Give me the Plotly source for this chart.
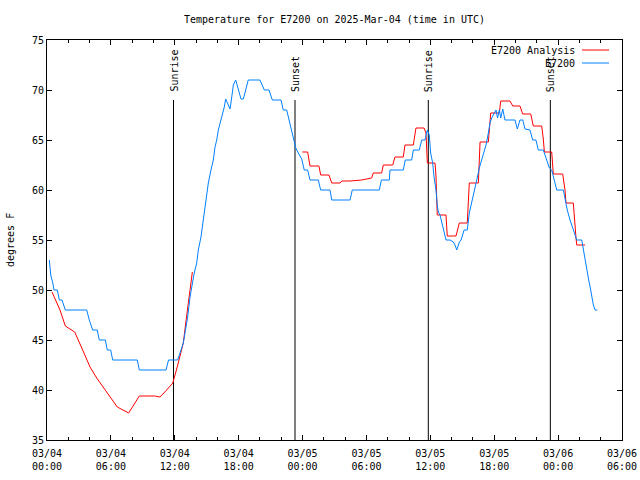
import plotly.graph_objects as go

# hours since 2025-03-04 00:00 UTC
obs_hours = [0.22, 0.35, 0.54, 0.66, 0.97, 1.16, 1.41, 1.72, 3.73, 3.97, 4.29, 4.72, 4.91, 5.48, 5.66, 5.98,
             6.17, 8.48, 8.67, 11.18, 11.41, 12.26, 12.49, 12.80, 12.96, 13.21, 13.43, 13.59, 13.83, 14.06,
             14.21, 14.46, 14.68, 14.84, 15.00, 15.15, 15.40, 15.62, 15.78, 15.94, 16.09, 16.41, 16.65, 16.78,
             16.97, 17.19, 17.35, 17.50, 17.72, 17.91, 18.22, 18.44, 18.66, 18.90, 20.00, 20.41, 20.85, 21.16,
             21.98, 22.19, 22.51, 22.66, 22.98, 23.23, 23.36, 23.60, 23.92, 24.16, 24.48, 24.70, 25.48, 25.70,
             26.58, 26.74, 28.46, 28.67, 31.21, 31.40, 32.15, 32.21, 33.46, 33.65, 34.25, 34.40, 34.96, 35.19,
             35.50, 35.72, 35.90, 36.03, 36.22, 36.35, 36.53, 36.65, 36.75, 36.91, 37.22, 37.47, 37.85, 38.16,
             38.32, 38.48, 38.73, 38.89, 39.17, 39.47, 39.66, 39.89, 40.10, 40.36, 40.60, 40.92, 41.23, 41.45,
             41.60, 41.76, 41.98, 42.17, 42.31, 42.48, 42.61, 42.80, 43.01, 43.95, 44.17, 44.42, 44.68, 44.89,
             45.36, 45.61, 45.92, 46.14, 46.61, 46.86, 47.18, 47.40, 47.61, 47.87, 48.49, 48.65, 48.86, 49.12,
             49.37, 49.59, 49.75, 50.22, 50.37, 50.62, 50.84, 51.06, 51.31, 51.47, 51.68]
obs_temps = [53.0, 51.5, 50.7, 50.0, 50.0, 49.0, 49.0, 48.0, 48.0, 47.0, 46.0, 46.0, 45.0, 45.0, 44.0, 44.0,
             43.0, 43.0, 42.0, 42.0, 43.0, 43.0, 43.7, 44.7, 45.7, 47.3, 49.3, 50.3, 51.7, 52.7,
             54.0, 55.3, 57.0, 58.2, 59.3, 60.7, 62.0, 63.0, 64.3, 65.0, 66.0, 67.3, 68.3, 69.1,
             68.7, 68.1, 69.3, 70.5, 71.0, 70.3, 69.1, 69.1, 70.0, 71.0, 71.0, 70.0, 70.0, 69.0,
             69.0, 68.0, 68.0, 67.3, 65.8, 64.8, 64.2, 63.7, 63.1, 62.0, 62.0, 61.0, 61.0, 60.0,
             60.0, 59.0, 59.0, 60.0, 60.0, 61.0, 61.0, 62.0, 62.0, 63.0, 63.0, 64.0, 64.0, 65.0,
             65.0, 66.0, 65.5, 63.7, 62.7, 61.3, 60.0, 58.5, 57.8, 57.5, 56.0, 55.0, 55.0, 54.8,
             54.5, 54.0, 54.8, 55.0, 56.0, 56.0, 57.7, 58.7, 59.8, 61.0, 62.2, 63.3, 64.5, 65.7,
             66.7, 67.2, 67.7, 68.0, 67.2, 68.0, 67.2, 68.1, 67.0, 67.0, 66.1, 67.0, 67.0, 66.1,
             66.0, 65.0, 65.0, 64.0, 64.0, 63.2, 62.2, 62.0, 61.0, 60.0, 60.0, 59.0, 58.0, 57.0,
             56.2, 55.3, 55.0, 55.0, 54.0, 52.7, 51.2, 50.0, 48.5, 48.0, 48.0]

ana_hours = [0.47, 1.22, 1.72, 2.16, 2.60, 3.35, 4.04, 4.67, 5.61, 6.60, 7.67, 8.67, 10.11, 10.61, 11.24,
             11.81, 12.18, 12.49, 12.80, 13.03, 13.43, 13.65, None,
             23.98, 24.48, 24.70, 25.54, 25.70, 26.48, 26.74, 27.52, 27.68, 28.46, 29.55, 30.49, 30.64,
             31.43, 31.58, 32.47, 32.68, 33.46, 33.62, 34.40, 34.65, 35.41, 35.59, 35.72, 36.44, 36.53,
             36.65, 37.47, 37.59, 38.41, 38.72, 39.47, 39.66, 40.51, 40.67, 41.45, 41.67, 42.48, 42.61,
             43.48, 43.74, 44.42, 44.67, 45.43, 45.67, 46.46, 46.61, 46.71, 47.40, 47.55, 48.43, 48.65,
             48.74, 49.43, 49.68, 49.75, 50.53]
ana_temps = [49.8, 48.0, 46.4, 46.1, 45.8, 44.0, 42.3, 41.2, 39.8, 38.3, 37.7, 39.4, 39.4, 39.3, 40.0,
             40.7, 42.1, 43.3, 44.7, 46.7, 50.0, 51.8, None,
             63.8, 63.8, 62.4, 62.4, 61.5, 61.5, 60.7, 60.7, 60.9, 60.9, 61.0, 61.2, 61.7,
             61.7, 62.5, 62.5, 63.3, 63.3, 64.5, 64.5, 66.2, 66.2, 65.7, 62.7, 62.7, 61.4,
             57.5, 57.5, 55.4, 55.4, 56.7, 56.7, 60.7, 60.7, 64.8, 64.8, 67.7, 67.7, 68.9,
             68.9, 68.4, 68.4, 67.6, 67.6, 66.4, 66.4, 65.1, 63.8, 63.8, 61.6, 61.6, 60.0,
             58.7, 58.7, 55.2, 54.5, 54.5]

sun_hours = [11.88, 23.29, 35.81, 47.27]
sun_labels = ["Sunrise", "Sunset", "Sunrise", "Sunset"]
sun_line_top = 69.0

tick_hours = [0, 6, 12, 18, 24, 30, 36, 42, 48, 54]
tick_labels = ["03/04<br>00:00", "03/04<br>06:00", "03/04<br>12:00", "03/04<br>18:00",
               "03/05<br>00:00", "03/05<br>06:00", "03/05<br>12:00", "03/05<br>18:00",
               "03/06<br>00:00", "03/06<br>06:00"]
y_ticks = [35, 40, 45, 50, 55, 60, 65, 70, 75]

series_names = ["E7200 Analysis", "E7200"]
series_colors = ["#ff0000", "#0080ff"]

FONT = "DejaVu Sans Mono"
fig = go.Figure()

for h, lab in zip(sun_hours, sun_labels):
    fig.add_trace(go.Scatter(x=[h, h], y=[35, sun_line_top], mode="lines",
                             line=dict(color="black", width=1), showlegend=False, hoverinfo="skip"))
    fig.add_annotation(x=h, y=sun_line_top + 0.6, text=lab, textangle=-90, showarrow=False,
                       xanchor="center", yanchor="bottom", font=dict(family=FONT, size=10, color="black"))

fig.add_trace(go.Scatter(x=ana_hours, y=ana_temps, mode="lines", name=series_names[0],
                         line=dict(color=series_colors[0], width=1), connectgaps=False))
fig.add_trace(go.Scatter(x=obs_hours, y=obs_temps, mode="lines", name=series_names[1],
                         line=dict(color=series_colors[1], width=1)))

# gnuplot-style key (text right-justified, sample on the right)
key_rows_y = [50, 63]  # pixel rows
for name, col, py in zip(series_names, series_colors, key_rows_y):
    yp = 1 - (py - 40) / 400
    fig.add_annotation(xref="paper", yref="paper", x=(577 - 47) / 575, y=yp, text=name,
                       showarrow=False, xanchor="right", yanchor="middle",
                       font=dict(family=FONT, size=10, color="black"))
    fig.add_shape(type="line", xref="paper", yref="paper", x0=(582 - 47) / 575, x1=(609 - 47) / 575,
                  y0=yp, y1=yp, line=dict(color=col, width=1))

fig.add_annotation(xref="paper", yref="paper", x=(10 - 47) / 575, y=0.5, text="degrees F",
                   textangle=-90, showarrow=False, xanchor="center", yanchor="middle",
                   font=dict(family=FONT, size=10, color="black"))

fig.update_layout(
    width=640, height=480,
    margin=dict(l=47, r=18, t=40, b=40, autoexpand=False),
    paper_bgcolor="white", plot_bgcolor="white",
    showlegend=False,
    font=dict(family=FONT, size=10, color="black"),
    title=dict(text="Temperature for E7200 on 2025-Mar-04 (time in UTC)", x=0.5, xref="paper",
               xanchor="center", y=1 - 19 / 480, yanchor="middle", yref="container",
               font=dict(family=FONT, size=10, color="black"), automargin=False),
)
fig.update_xaxes(range=[0, 54], tickvals=tick_hours, ticktext=tick_labels, showgrid=False, zeroline=False,
                 showline=True, linecolor="black", linewidth=1, mirror="ticks", automargin=False,
                 ticks="inside", ticklen=5, tickcolor="black", tickwidth=1, ticklabelstandoff=4,
                 minor=dict(dtick=2, tick0=0, ticks="inside", ticklen=3, tickcolor="black", tickwidth=1,
                            showgrid=False),
                 tickfont=dict(family=FONT, size=10, color="black"))
fig.update_yaxes(range=[35, 75], tickvals=y_ticks, showgrid=False, zeroline=False,
                 showline=True, linecolor="black", linewidth=1, mirror="ticks", automargin=False,
                 ticks="inside", ticklen=5, tickcolor="black", tickwidth=1,
                 tickfont=dict(family=FONT, size=10, color="black"))

fig.write_html("out.html", config={"displayModeBar": False},
               post_script="document.body.style.margin='0';")
